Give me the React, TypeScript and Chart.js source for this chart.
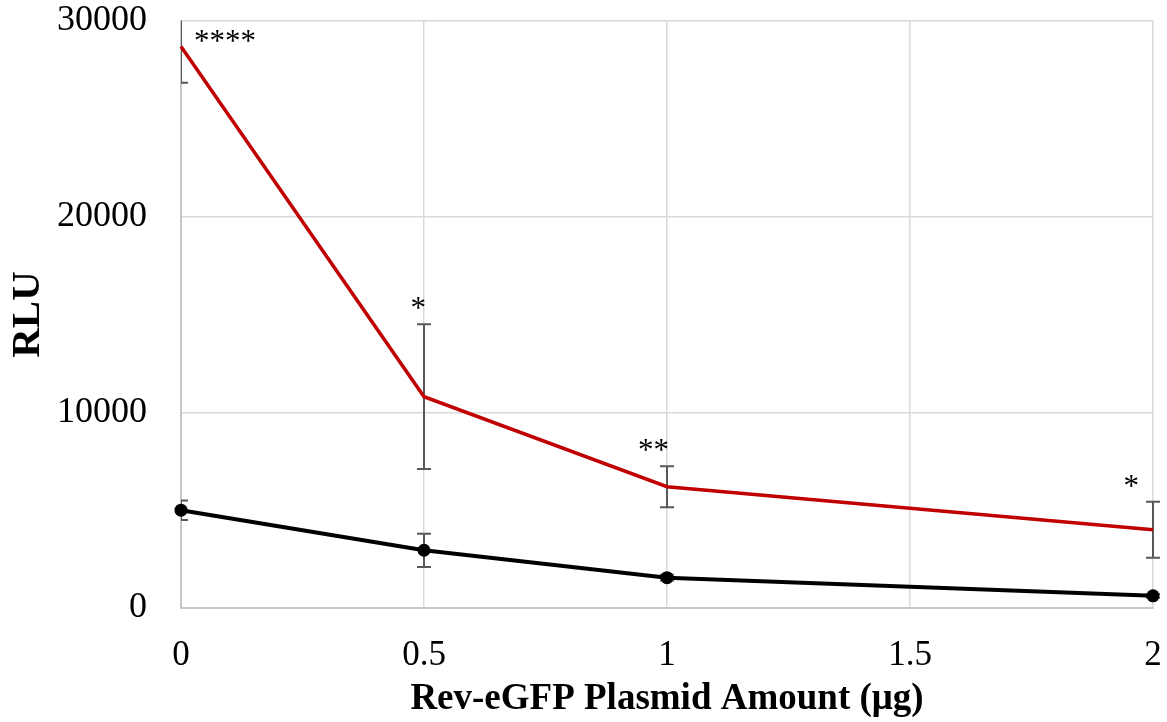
import React, { useEffect, useRef } from 'react';
import { Chart, registerables } from 'chart.js';

Chart.register(...registerables);

// ---- data ----
const plasmidAmounts = [0, 0.5, 1, 2];
const redMeans = [28700, 10800, 6200, 4000];
const redErrors = [1850, 3700, 1050, 1430];
const blackMeans = [5000, 2950, 1550, 620];
const blackErrors = [500, 850, 150, 100];
const significance = ['****', '*', '**', '*'];
const xTickValues = [0, 0.5, 1, 1.5, 2];
const yTickValues = [0, 10000, 20000, 30000];

const SERIF = "'Liberation Serif', 'Times New Roman', serif";

const errorBarPlugin = {
  id: 'errorBars',
  beforeDatasetsDraw(chart: any) {
    const { ctx, chartArea, scales } = chart;
    const x = scales.x;
    const y = scales.y;
    ctx.save();
    ctx.beginPath();
    // clip only on the left and top edges (as in the reference)
    ctx.rect(chartArea.left, chartArea.top, chart.width - chartArea.left, chartArea.bottom - chartArea.top + 20);
    ctx.clip();
    ctx.strokeStyle = '#595959';
    ctx.lineWidth = 2;
    chart.data.datasets.forEach((ds: any) => {
      const errs: number[] = ds.errors || [];
      ds.data.forEach((p: any, i: number) => {
        const e = errs[i] || 0;
        const px = x.getPixelForValue(p.x);
        const top = y.getPixelForValue(p.y + e);
        const bot = y.getPixelForValue(p.y - e);
        ctx.beginPath();
        ctx.moveTo(px, top);
        ctx.lineTo(px, bot);
        ctx.moveTo(px - 7, top);
        ctx.lineTo(px + 7, top);
        ctx.moveTo(px - 7, bot);
        ctx.lineTo(px + 7, bot);
        ctx.stroke();
      });
    });
    ctx.restore();
  },
  afterDatasetsDraw(chart: any) {
    const { ctx, chartArea, scales } = chart;
    const x = scales.x;
    const y = scales.y;
    ctx.save();
    ctx.font = `31px ${SERIF}`;
    ctx.fillStyle = '#000000';
    ctx.textBaseline = 'alphabetic';
    significance.forEach((label, i) => {
      let px = x.getPixelForValue(plasmidAmounts[i]);
      let py = y.getPixelForValue(redMeans[i] + redErrors[i]) - 6;
      py = Math.max(py, chartArea.top + 30);
      if (px <= chartArea.left + 1) {
        ctx.textAlign = 'left';
        px += 13;
      } else {
        ctx.textAlign = 'right';
        px = Math.min(px + 2, chartArea.right - 14);
      }
      ctx.fillText(label, px, py);
    });
    ctx.restore();
  },
};

export default function App() {
  const canvasRef = useRef<HTMLCanvasElement | null>(null);

  useEffect(() => {
    if (!canvasRef.current) return;
    const chart = new Chart(canvasRef.current, {
      type: 'line',
      data: {
        datasets: [
          {
            label: 'Red series',
            data: plasmidAmounts.map((v, i) => ({ x: v, y: redMeans[i] })),
            errors: redErrors,
            borderColor: '#c00000',
            backgroundColor: '#c00000',
            borderWidth: 3.5,
            pointRadius: 0,
            pointHoverRadius: 0,
            tension: 0,
            clip: false,
          } as any,
          {
            label: 'Black series',
            data: plasmidAmounts.map((v, i) => ({ x: v, y: blackMeans[i] })),
            errors: blackErrors,
            borderColor: '#000000',
            backgroundColor: '#000000',
            borderWidth: 4,
            pointRadius: 6.5,
            pointHoverRadius: 6.5,
            pointBorderWidth: 0,
            tension: 0,
            clip: false,
          } as any,
        ],
      },
      options: {
        responsive: false,
        animation: false,
        events: [],
        layout: { padding: { top: 21, right: 14, left: 0, bottom: 0 } },
        plugins: {
          legend: { display: false },
          tooltip: { enabled: false },
        },
        scales: {
          x: {
            type: 'linear',
            min: 0,
            max: 2,
            afterBuildTicks: (scale: any) => {
              scale.ticks = xTickValues.map((v) => ({ value: v }));
            },
            afterFit: (scale: any) => {
              scale.height = 114;
              scale.paddingLeft = 0;
              scale.paddingRight = 0;
            },
            grid: { color: '#d9d9d9', lineWidth: 1.5, drawTicks: false },
            border: { color: '#c8c8c8', width: 2 },
            ticks: {
              padding: 27,
              color: '#000000',
              font: { family: SERIF, size: 35 },
              callback: (v: any) => String(v),
            },
            title: {
              display: true,
              text: 'Rev-eGFP Plasmid Amount (μg)',
              color: '#000000',
              font: { family: SERIF, size: 37, weight: 'bold' },
              padding: { top: 0, bottom: 0 },
            },
          },
          y: {
            type: 'linear',
            min: 0,
            max: 30000,
            afterBuildTicks: (scale: any) => {
              scale.ticks = yTickValues.map((v) => ({ value: v }));
            },
            afterFit: (scale: any) => {
              scale.width = 181;
              scale.paddingTop = 0;
              scale.paddingBottom = 0;
            },
            grid: { color: '#d9d9d9', lineWidth: 1.5, drawTicks: false },
            border: { color: '#c8c8c8', width: 2 },
            ticks: {
              padding: 34,
              color: '#000000',
              font: { family: SERIF, size: 36 },
              callback: (v: any) => String(v),
            },
            title: {
              display: true,
              text: 'RLU',
              color: '#000000',
              font: { family: SERIF, size: 41, weight: 'bold' },
              padding: { top: 4, bottom: 0 },
            },
          },
        },
      } as any,
      plugins: [errorBarPlugin],
    });
    return () => chart.destroy();
  }, []);

  return (
    <canvas
      ref={canvasRef}
      width={1167}
      height={722}
      style={{ position: 'absolute', left: 0, top: 0, display: 'block' }}
    />
  );
}
